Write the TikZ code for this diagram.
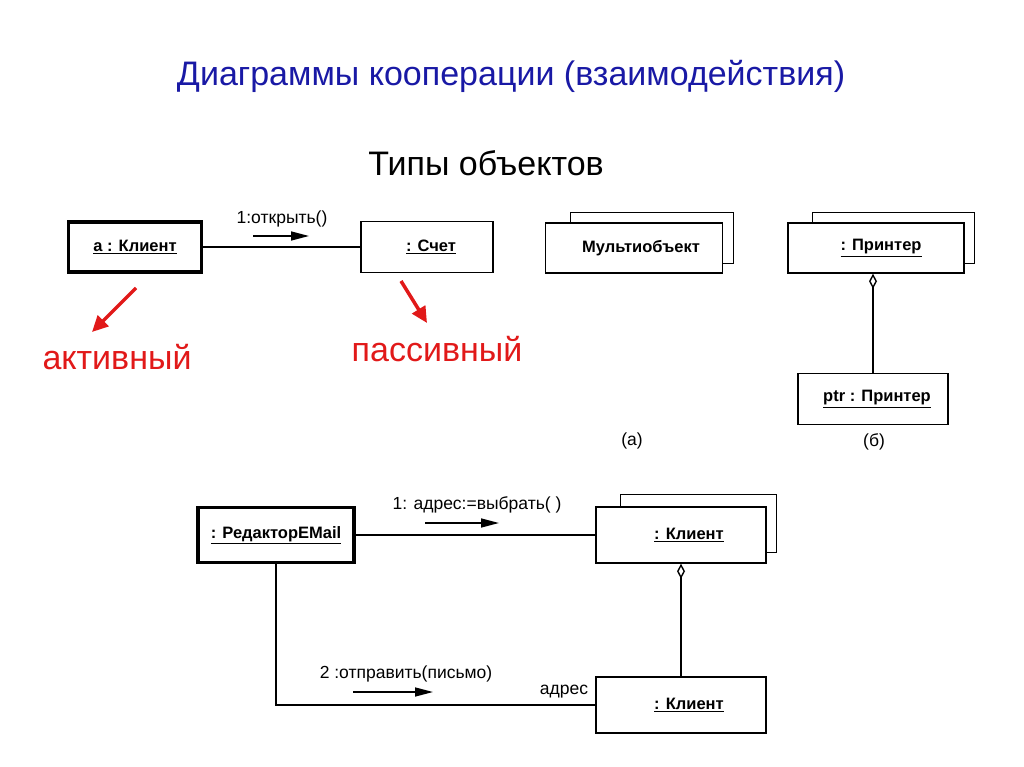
\documentclass[tikz,border=0pt]{standalone}
\usepackage{fontspec}
\setmainfont{Liberation Sans}
\usetikzlibrary{shapes,arrows,arrows.meta,positioning}

\definecolor{titleblue}{RGB}{25,25,165}
\definecolor{markred}{RGB}{225,25,25}

\tikzstyle{obj} = [draw, fill=white, rectangle, line width=1.5pt, minimum height=50pt,
text centered, inner sep=0pt, font=\fontsize{16.5}{19}\selectfont\bfseries]
\tikzstyle{active} = [obj, line width=3.6pt]
\tikzstyle{line} = [draw, line width=1.4pt]
\tikzstyle{msg} = [line width=1.5pt, -{Triangle[length=18pt,width=9pt]}]
\tikzstyle{redarrow} = [draw=markred, line width=3.5pt, -{Triangle[length=16pt,width=15pt]}]
\tikzstyle{lbl} = [font=\fontsize{17.5}{20}\selectfont]
\tikzstyle{head} = [font=\fontsize{34}{40}\selectfont]
\tikzstyle{kind} = [text=markred, font=\fontsize{34}{40}\selectfont]

\begin{document}
\begin{tikzpicture}[x=1pt, y=-1pt]
\useasboundingbox (0,0) rectangle (1024,767);

% Headings
\node [head, text=titleblue](title) at (511,76){Диаграммы кооперации (взаимодействия)};
\node [head](types) at (486,163){Типы объектов};

% Active and passive objects
\node [active, minimum width=133pt, minimum height=50pt](client) at (135,247){\underline{a : Клиент}};
\node [obj, minimum width=132pt, minimum height=51pt](account) at (427,247){\hspace{8pt}\underline{: Счет}};
\node [lbl](open) at (282,219){1:открыть()};
\coordinate (opens) at (253,236);
\coordinate (opene) at (309,236);
\draw [line] (client) -- (account);
\draw [msg] (opens) -- (opene);

\coordinate (acts) at (136,288);
\coordinate (acte) at (92,332);
\coordinate (pass) at (401,281);
\coordinate (passe) at (427,323);
\node [kind](active) at (117,357){активный};
\node [kind](passive) at (437,349){пассивный};
\draw [redarrow] (acts) -- (acte);
\draw [redarrow] (pass) -- (passe);

% Multiobjects
\node [obj, minimum width=177pt](multi) at (634,248){\hspace{14pt}Мультиобъект};
\draw [line] ([xshift=26pt]multi.north west) -- ++(0,-10) -| ([shift={(10,-10)}]multi.south east) -- ([yshift=10pt]multi.south east);
\node [obj, minimum width=176pt](printer) at (876,248){\hspace{10pt}\underline{: Принтер}};
\draw [line] ([xshift=25pt]printer.north west) -- ++(0,-10) -| ([shift={(10,-10)}]printer.south east) -- ([yshift=10pt]printer.south east);
\node [obj, minimum width=150pt, minimum height=51pt](ptr) at (873,399){\hspace{8pt}\underline{ptr : Принтер}};
\draw [line, {Diamond[open,length=15pt,width=8pt]}-] (ptr.north |- printer.south) -- (ptr.north);
\node [lbl](capa) at (632,441){(а)};
\node [lbl](capb) at (874,442){(б)};

% Collaboration example
\node [active, minimum width=156pt, minimum height=55pt](editor) at (276,535){\underline{: РедакторEMail}};
\node [obj, minimum width=170pt, minimum height=56pt](rcpt) at (681,535){\hspace{16pt}\underline{: Клиент}};
\draw [line] ([xshift=25pt]rcpt.north west) -- ++(0,-12) -| ([shift={(10,-11)}]rcpt.south east) -- ([yshift=11pt]rcpt.south east);
\node [obj, minimum width=170pt, minimum height=56pt](addr) at (681,705){\hspace{16pt}\underline{: Клиент}};

\node [lbl](select) at (477,505){1: адрес:=выбрать( )};
\coordinate (sels) at (425,523);
\coordinate (sele) at (499,523);
\node [lbl](send) at (406,674){2 :отправить(письмо)};
\coordinate (sends) at (353,692);
\coordinate (sende) at (433,692);
\node [lbl](role) at (564,692){адрес};

\draw [line] (editor) -- (rcpt);
\draw [line, {Diamond[open,length=15pt,width=8pt]}-] (rcpt) -- (addr);
\draw [line] (editor.south) |- (addr.west);
\draw [msg] (sels) -- (sele);
\draw [msg] (sends) -- (sende);

\end{tikzpicture}
\end{document}
